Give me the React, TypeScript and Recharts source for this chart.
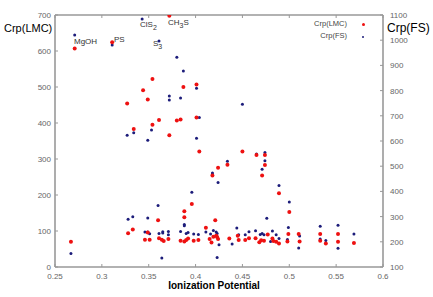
import { Scatter, ScatterChart, XAxis, YAxis } from "recharts";

// Crp(LMC) series: ionization potential / value (left axis)
const lmcIp = [
  0.271, 0.311, 0.372, 0.354, 0.344, 0.349, 0.387, 0.401, 0.327, 0.361, 0.354, 0.38, 0.384, 0.401,
  0.334, 0.372, 0.404, 0.45, 0.465, 0.474, 0.474, 0.471, 0.489, 0.5, 0.434, 0.424, 0.418, 0.396,
  0.388, 0.388, 0.36, 0.421, 0.411, 0.267, 0.328, 0.333, 0.349, 0.346, 0.351, 0.361, 0.364, 0.366,
  0.371, 0.384, 0.388, 0.39, 0.392, 0.398, 0.403, 0.415, 0.419, 0.422, 0.423, 0.424, 0.417, 0.436,
  0.445, 0.446, 0.453, 0.457, 0.464, 0.468, 0.47, 0.473, 0.477, 0.483, 0.482, 0.486, 0.489, 0.499,
  0.498, 0.51, 0.511, 0.533, 0.533, 0.539, 0.552, 0.552, 0.569,
];
const lmcVal = [
  607, 624, 698, 522, 491, 465, 500, 507, 454, 408, 395, 407, 410, 415,
  383, 366, 321, 321, 311, 311, 283, 254, 205, 153, 284, 276, 254, 175,
  155, 138, 130, 130, 109, 70, 94, 104, 96, 76, 76, 80, 76, 72,
  78, 73, 71, 75, 79, 73, 75, 78, 84, 87, 83, 78, 68, 79,
  87, 75, 75, 80, 80, 69, 74, 73, 90, 72, 79, 70, 65, 92,
  71, 92, 71, 92, 73, 65, 92, 70, 67,
];

// Crp(FS) series: ionization potential / value (right axis)
const fsIp = [
  0.271, 0.311, 0.343, 0.361, 0.38, 0.387, 0.401, 0.372, 0.372, 0.384, 0.404, 0.353, 0.334, 0.327,
  0.349, 0.401, 0.45, 0.465, 0.474, 0.474, 0.471, 0.489, 0.5, 0.434, 0.418, 0.418, 0.424, 0.396,
  0.36, 0.328, 0.333, 0.349, 0.267, 0.346, 0.349, 0.351, 0.361, 0.365, 0.365, 0.371, 0.371, 0.364,
  0.388, 0.388, 0.384, 0.39, 0.392, 0.398, 0.403, 0.411, 0.416, 0.419, 0.422, 0.423, 0.425, 0.423,
  0.439, 0.444, 0.446, 0.453, 0.457, 0.464, 0.469, 0.471, 0.473, 0.476, 0.48, 0.482, 0.486, 0.489,
  0.499, 0.498, 0.511, 0.51, 0.533, 0.533, 0.539, 0.552, 0.552, 0.569,
];
const fsVal = [
  1021, 981, 1084, 997, 932, 878, 809, 779, 763, 771, 693, 644, 633, 623,
  603, 611, 746, 548, 554, 522, 488, 423, 358, 520, 473, 467, 435, 397,
  344, 289, 299, 294, 154, 239, 239, 232, 233, 240, 235, 241, 228, 136,
  269, 264, 241, 233, 237, 231, 229, 239, 231, 245, 239, 233, 188, 138,
  191, 255, 228, 228, 240, 244, 229, 233, 228, 293, 201, 243, 228, 213,
  257, 209, 223, 175, 262, 211, 205, 266, 174, 231,
];

const xTicks = [0.25, 0.3, 0.35, 0.4, 0.45, 0.5, 0.55, 0.6];
const lmcTicks = [0, 100, 200, 300, 400, 500, 600, 700];
const fsTicks = [100, 200, 300, 400, 500, 600, 700, 800, 900, 1000, 1100];

const RED = "#ee1111";
const BLUE = "#1c1c7a";
const FRAME = "#999";
const TICK_TXT = "#666";
const FONT = "'Liberation Sans', Arial, sans-serif";

const lmcData = lmcIp.map((ip, i) => ({ ip, lmc: lmcVal[i] }));
const fsData = fsIp.map((ip, i) => ({ ip, fs: fsVal[i] }));

const BottomTick = (p: any) => (
  <g>
    <line x1={p.x} y1={p.y} x2={p.x} y2={p.y - 3} stroke={FRAME} />
    <text x={p.x} y={p.y + 12} textAnchor="middle" fontSize={8} fill={TICK_TXT} fontFamily={FONT}>
      {p.payload.value}
    </text>
  </g>
);

const TopTick = (p: any) => (
  <line x1={p.x} y1={p.y} x2={p.x} y2={p.y + 3} stroke={FRAME} />
);

const LeftTick = (p: any) => (
  <g>
    <line x1={p.x} y1={p.y} x2={p.x + 3} y2={p.y} stroke={FRAME} />
    <text x={p.x - 4} y={p.y + 3} textAnchor="end" fontSize={8} fill={TICK_TXT} fontFamily={FONT}>
      {p.payload.value}
    </text>
  </g>
);

const RightTick = (p: any) => (
  <g>
    <line x1={p.x} y1={p.y} x2={p.x - 3} y2={p.y} stroke={FRAME} />
    <text x={p.x + 7} y={p.y + 3} textAnchor="start" fontSize={8} fill={TICK_TXT} fontFamily={FONT}>
      {p.payload.value}
    </text>
  </g>
);

const dot = (r: number, fill: string) => (p: any) => <circle cx={p.cx} cy={p.cy} r={r} fill={fill} />;

const note: React.CSSProperties = {
  position: "absolute",
  fontFamily: FONT,
  fontSize: 8,
  lineHeight: "10px",
  color: "#333",
  whiteSpace: "nowrap",
};
const sub: React.CSSProperties = { fontSize: 7, position: "relative", top: 3 };

export default function App() {
  return (
    <div style={{ position: "absolute", left: 0, top: 0, width: 433, height: 297, background: "#fff" }}>
      <ScatterChart width={433} height={297} margin={{ top: 14, right: 0, bottom: 10, left: 10 }}>
        <XAxis
          xAxisId="b"
          dataKey="ip"
          type="number"
          domain={[0.25, 0.6]}
          ticks={xTicks}
          height={20}
          tickSize={0}
          tickMargin={0}
          tickLine={false}
          axisLine={{ stroke: FRAME, strokeWidth: 1.6 }}
          tick={<BottomTick />}
          allowDataOverflow
        />
        <XAxis
          xAxisId="t"
          dataKey="ip"
          orientation="top"
          type="number"
          domain={[0.25, 0.6]}
          ticks={xTicks}
          height={1}
          tickSize={0}
          tickMargin={0}
          tickLine={false}
          axisLine={{ stroke: FRAME, strokeWidth: 1.6 }}
          tick={<TopTick />}
          allowDataOverflow
        />
        <YAxis
          yAxisId="lmc"
          dataKey="lmc"
          type="number"
          domain={[0, 700]}
          ticks={lmcTicks}
          width={45}
          tickSize={0}
          tickMargin={0}
          tickLine={false}
          axisLine={{ stroke: FRAME, strokeWidth: 1.6 }}
          tick={<LeftTick />}
          allowDataOverflow
        />
        <YAxis
          yAxisId="fs"
          dataKey="fs"
          orientation="right"
          type="number"
          domain={[100, 1100]}
          ticks={fsTicks}
          width={50}
          tickSize={0}
          tickMargin={0}
          tickLine={false}
          axisLine={{ stroke: FRAME, strokeWidth: 1.6 }}
          tick={<RightTick />}
          allowDataOverflow
        />
        <Scatter
          name="Crp(FS)"
          data={fsData}
          xAxisId="t"
          yAxisId="fs"
          shape={dot(1.5, BLUE)}
          isAnimationActive={false}
        />
        <Scatter
          name="Crp(LMC)"
          data={lmcData}
          xAxisId="b"
          yAxisId="lmc"
          shape={dot(2, RED)}
          isAnimationActive={false}
        />
      </ScatterChart>

      {/* axis titles */}
      <div style={{ ...note, left: 4, top: 22, fontSize: 11, lineHeight: "13px", color: "#000" }}>Crp(LMC)</div>
      <div style={{ ...note, left: 387, top: 21, fontSize: 12, lineHeight: "14px", color: "#000" }}>Crp(FS)</div>
      <div
        style={{
          ...note,
          left: 0,
          width: 428,
          textAlign: "center",
          top: 279,
          fontSize: 10,
          lineHeight: "13px",
          fontWeight: "bold",
          color: "#000",
        }}
      >
        Ionization Potential
      </div>

      {/* legend */}
      <div style={{ ...note, right: 433 - 347, top: 19, fontSize: 7.5, color: "#444", textAlign: "right" }}>Crp(LMC)</div>
      <div style={{ ...note, right: 433 - 347, top: 31, fontSize: 7.5, color: "#444", textAlign: "right" }}>Crp(FS)</div>
      <div style={{ position: "absolute", left: 361.5, top: 23, width: 3, height: 3, borderRadius: 2, background: RED }} />
      <div style={{ position: "absolute", left: 362, top: 35.5, width: 2, height: 2, borderRadius: 1, background: BLUE }} />

      {/* point labels */}
      <div style={{ ...note, left: 74, top: 37 }}>MgOH</div>
      <div style={{ ...note, left: 114, top: 35 }}>PS</div>
      <div style={{ ...note, left: 140, top: 20 }}>
        ClS<span style={sub}>2</span>
      </div>
      <div style={{ ...note, left: 168, top: 18 }}>
        CH<span style={sub}>3</span>S
      </div>
      <div style={{ ...note, left: 153, top: 39 }}>
        S<span style={sub}>3</span>
      </div>
    </div>
  );
}
